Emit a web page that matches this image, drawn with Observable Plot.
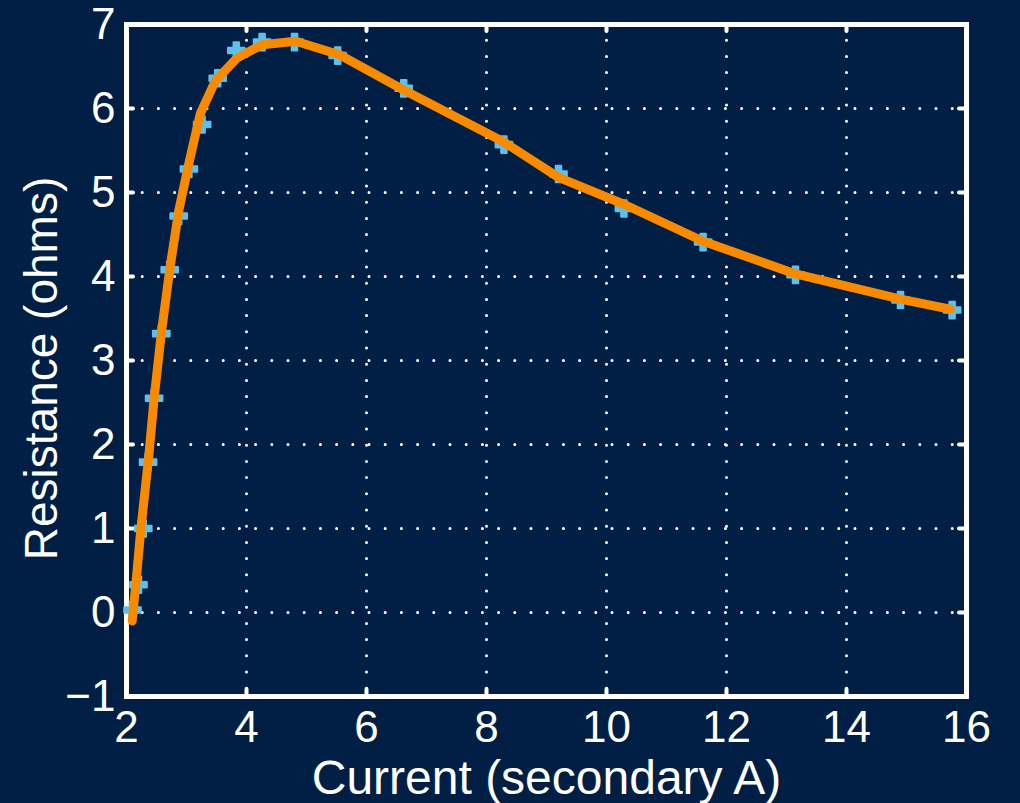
<!DOCTYPE html>
<html>
<head>
<meta charset="utf-8">
<script src="https://cdn.jsdelivr.net/npm/d3@7"></script>
<script src="https://cdn.jsdelivr.net/npm/@observablehq/plot@0.6"></script>
<style>
  html, body { margin: 0; padding: 0; background: #011f44; }
  #chart svg { display: block; }
</style>
</head>
<body>
<div id="chart"></div>
<script>
// Measured resistance versus secondary current
const current = [2.10, 2.20, 2.28, 2.36, 2.46, 2.58, 2.72, 2.87, 3.04, 3.26, 3.52, 3.83, 4.26, 4.80, 5.52, 6.62, 8.29, 9.20, 10.29, 11.61, 13.15, 14.90, 15.76];
const resistance = [0.03, 0.33, 1.00, 1.79, 2.55, 3.32, 4.08, 4.72, 5.28, 5.81, 6.36, 6.69, 6.79, 6.79, 6.63, 6.24, 5.57, 5.22, 4.81, 4.41, 4.02, 3.72, 3.60];

// Fitted curve through the measurements
const fitCurrent = [2.095, 2.17, 2.24, 2.37, 2.46, 2.58, 2.72, 2.87, 3.04, 3.23, 3.48, 3.84, 4.26, 4.82, 5.55, 6.62, 8.29, 9.20, 10.29, 11.61, 13.15, 14.90, 15.73];
const fitResistance = [-0.10, 0.45, 1.00, 1.85, 2.55, 3.32, 4.08, 4.78, 5.35, 5.94, 6.33, 6.60, 6.76, 6.80, 6.64, 6.22, 5.60, 5.18, 4.86, 4.42, 4.03, 3.73, 3.61];

const xTicks = [2, 4, 6, 8, 10, 12, 14, 16];
const yTicks = [-1, 0, 1, 2, 3, 4, 5, 6, 7];
const xLabel = "Current (secondary A)";
const yLabel = "Resistance (ohms)";

const points = current.map((c, i) => ({current: c, resistance: resistance[i]}));
const fit = fitCurrent.map((c, i) => ({current: c, resistance: fitResistance[i]}));

const W = 1020, H = 803;
const M = {left: 126, right: 54, top: 24, bottom: 107};
const frameW = W - M.left - M.right;
const frameH = H - M.top - M.bottom;
const stubLen = 7;

const bg = "#011f44";
const fg = "white";
const blue = "#5ec0ec";
const orange = "#f88a00";
const font = "'Liberation Sans', Arial, Helvetica, sans-serif";
const fmt = d => d < 0 ? "\u2212" + Math.abs(d) : String(d);

const stubStyle = {stroke: fg, strokeWidth: 4, strokeLinecap: "round"};
const gridStyle = {stroke: fg, strokeOpacity: 1, strokeWidth: 3, strokeDasharray: "0 16.2", strokeLinecap: "round"};

const chart = Plot.plot({
  width: W,
  height: H,
  marginLeft: M.left,
  marginRight: M.right,
  marginTop: M.top,
  marginBottom: M.bottom,
  style: {background: bg, color: fg, fontFamily: font},
  x: {domain: [2, 16]},
  y: {domain: [-1, 7]},
  marks: [
    Plot.gridX(xTicks.slice(1, -1), gridStyle),
    Plot.gridY(yTicks.slice(1, -1), gridStyle),
    Plot.axisX(xTicks, {anchor: "bottom", tickSize: 0, tickPadding: 14, fontSize: 44, fill: fg, label: null, tickFormat: fmt}),
    Plot.axisY(yTicks, {anchor: "left", tickSize: 0, tickPadding: 11, fontSize: 44, fill: fg, label: null, tickFormat: fmt}),
    // inward tick stubs on all four sides
    Plot.ruleX(xTicks, {x: d => d, insetTop: frameH - stubLen, ...stubStyle}),
    Plot.ruleX(xTicks, {x: d => d, insetBottom: frameH - stubLen, ...stubStyle}),
    Plot.ruleY(yTicks, {y: d => d, insetRight: frameW - stubLen, ...stubStyle}),
    Plot.ruleY(yTicks, {y: d => d, insetLeft: frameW - stubLen, ...stubStyle}),
    Plot.frame({stroke: fg, strokeWidth: 5}),
    // measurement markers: a rounded plus over a small diamond
    Plot.dot(points, {x: "current", y: "resistance", symbol: "cross", r: 7, fill: blue, stroke: blue, strokeWidth: 2, strokeLinejoin: "round"}),
    Plot.dot(points, {x: "current", y: "resistance", symbol: "diamond2", r: 4.5, fill: blue, stroke: blue, strokeWidth: 1.5, strokeLinejoin: "round"}),
    Plot.line(fit, {x: "current", y: "resistance", stroke: orange, strokeWidth: 9, strokeLinejoin: "round", strokeLinecap: "round"}),
    Plot.text([xLabel], {frameAnchor: "bottom", textAnchor: "middle", dy: 97, fontSize: 48, fill: fg}),
    Plot.text([yLabel], {frameAnchor: "left", textAnchor: "middle", rotate: -90, dx: -84, dy: 8, fontSize: 46, fill: fg})
  ]
});

document.getElementById("chart").append(chart);
</script>
</body>
</html>
